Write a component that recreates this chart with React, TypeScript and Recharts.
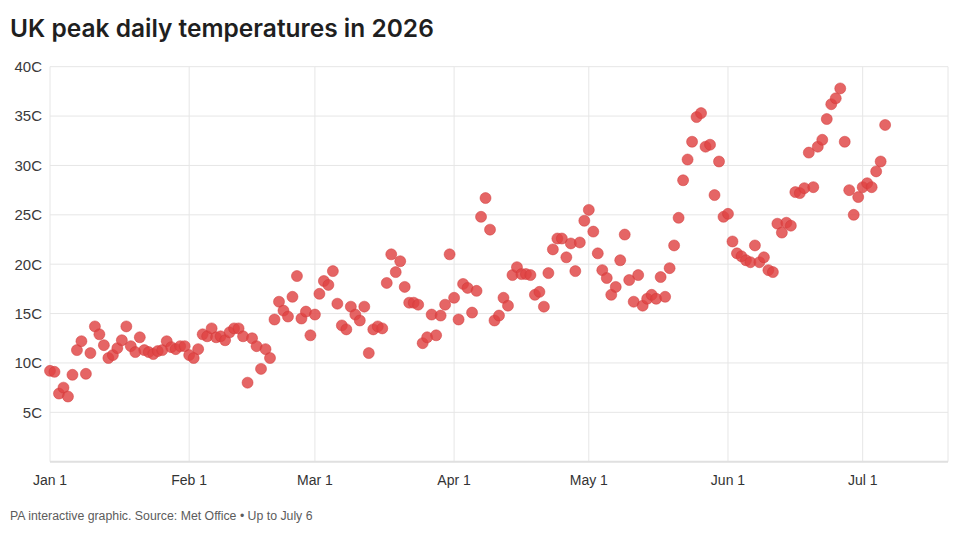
import React from 'react';
import { ScatterChart, Scatter, XAxis, YAxis, CartesianGrid } from 'recharts';

// Daily peak temperature (C), one value per day from Jan 1
const peakTemps = [
  9.2, 9.1, 6.9, 7.5, 6.6, 8.8, 11.3, 12.2, 8.9, 11.0,
  13.7, 12.9, 11.8, 10.5, 10.8, 11.5, 12.3, 13.7, 11.7, 11.1,
  12.6, 11.3, 11.1, 10.9, 11.2, 11.3, 12.2, 11.6, 11.4, 11.7,
  11.7, 10.8, 10.5, 11.4, 12.9, 12.7, 13.5, 12.6, 12.7, 12.3,
  13.1, 13.5, 13.5, 12.7, 8.0, 12.5, 11.7, 9.4, 11.4, 10.5,
  14.4, 16.2, 15.3, 14.7, 16.7, 18.8, 14.5, 15.2, 12.8, 14.9,
  17.0, 18.3, 17.9, 19.3, 16.0, 13.8, 13.4, 15.7, 14.9, 14.3,
  15.7, 11.0, 13.4, 13.7, 13.5, 18.1, 21.0, 19.2, 20.3, 17.7,
  16.1, 16.1, 15.9, 12.0, 12.6, 14.9, 12.8, 14.8, 15.9, 21.0,
  16.6, 14.4, 18.0, 17.6, 15.1, 17.3, 24.8, 26.7, 23.5, 14.3,
  14.8, 16.6, 15.8, 18.9, 19.7, 19.0, 19.0, 18.9, 16.9, 17.2,
  15.7, 19.1, 21.5, 22.6, 22.6, 20.7, 22.1, 19.3, 22.2, 24.4,
  25.5, 23.3, 21.1, 19.4, 18.6, 16.9, 17.7, 20.4, 23.0, 18.4,
  16.2, 18.9, 15.8, 16.5, 16.9, 16.5, 18.7, 16.7, 19.6, 21.9,
  24.7, 28.5, 30.6, 32.4, 34.9, 35.3, 31.9, 32.1, 27.0, 30.4,
  24.8, 25.1, 22.3, 21.1, 20.8, 20.4, 20.2, 21.9, 20.2, 20.7,
  19.4, 19.2, 24.1, 23.2, 24.2, 23.9, 27.3, 27.2, 27.7, 31.3,
  27.8, 31.9, 32.6, 34.7, 36.2, 36.8, 37.8, 32.4, 27.5, 25.0,
  26.8, 27.8, 28.2, 27.8, 29.4, 30.4, 34.1,
];

// Month starts as day offsets from Jan 1
const monthStarts = [0, 31, 59, 90, 120, 151, 181];
const monthLabels = ['Jan 1', 'Feb 1', 'Mar 1', 'Apr 1', 'May 1', 'Jun 1', 'Jul 1'];
const tempTicks = [5, 10, 15, 20, 25, 30, 35, 40];

const points = peakTemps.map((temp, day) => ({ day, temp }));

const FONT = '"Liberation Sans", Arial, sans-serif';

const Dot = (props: any) => (
  <circle
    cx={props.cx}
    cy={props.cy}
    r={5.5}
    fill="#df4343"
    fillOpacity={0.82}
    stroke="#d23a3a"
    strokeOpacity={0.5}
    strokeWidth={1}
  />
);

export default function App() {
  return (
    <div style={{ position: 'absolute', left: 0, top: 0, width: 960, height: 536, background: '#fff', fontFamily: FONT }}>
      <div
        style={{
          position: 'absolute',
          left: 10,
          top: 12.5,
          fontFamily: 'Inter, sans-serif',
          fontWeight: 600,
          fontSize: 24.5,
          lineHeight: '30px',
          color: '#1f1f1f',
          whiteSpace: 'nowrap',
        }}
      >
        UK peak daily temperatures in 2026
      </div>
      <ScatterChart width={960} height={536} margin={{ top: 66.7, right: 12, bottom: 34.3, left: 0 }}>
        <CartesianGrid stroke="#e6e6e6" />
        <XAxis
          type="number"
          dataKey="day"
          domain={[0, 200]}
          ticks={monthStarts}
          interval={0}
          tickFormatter={(v: number) => monthLabels[monthStarts.indexOf(v)]}
          axisLine={{ stroke: '#e0e0e0', strokeWidth: 2 }}
          tickLine={false}
          tickSize={0}
          tickMargin={13}
          height={40}
          tick={{ fontSize: 14, fill: '#333', fontFamily: FONT }}
        />
        <YAxis
          type="number"
          dataKey="temp"
          domain={[0, 40]}
          ticks={tempTicks}
          interval={0}
          tickFormatter={(v: number) => `${v}C`}
          axisLine={false}
          tickLine={false}
          tickSize={0}
          tickMargin={8}
          width={50}
          tick={{ fontSize: 15, fill: '#3a3a3a', fontFamily: FONT }}
        />
        <Scatter data={points} shape={Dot} isAnimationActive={false} />
      </ScatterChart>
      <div
        style={{
          position: 'absolute',
          left: 10,
          top: 508,
          fontSize: 12.3,
          lineHeight: '16px',
          color: '#5c5c5c',
          whiteSpace: 'nowrap',
        }}
      >
        PA interactive graphic. Source: Met Office • Up to July 6
      </div>
    </div>
  );
}
